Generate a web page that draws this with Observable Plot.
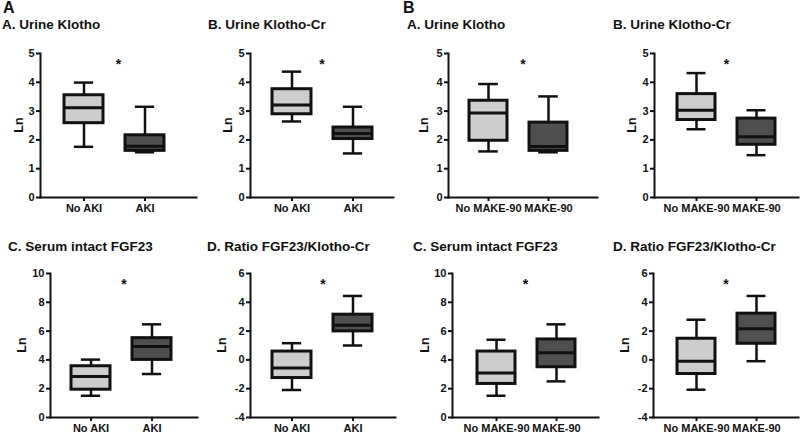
<!DOCTYPE html>
<html><head><meta charset="utf-8">
<script src="https://cdn.jsdelivr.net/npm/d3@7"></script>
<script src="https://cdn.jsdelivr.net/npm/@observablehq/plot@0.6"></script>
<style>
body{margin:0;background:#fff;font-family:"Liberation Sans",Arial,sans-serif;}
#root{position:relative;width:800px;height:434px;overflow:hidden;background:#fff;}
.panel{position:absolute;}
.title{position:absolute;font-weight:bold;font-size:13.5px;line-height:13.5px;white-space:nowrap;color:#111;}
.big{position:absolute;font-weight:bold;font-size:16px;line-height:16px;color:#111;}
.ylab{position:absolute;font-weight:bold;font-size:12.5px;line-height:12.5px;white-space:nowrap;color:#111;transform:translate(-50%,-50%) rotate(-90deg);}
</style></head><body><div id="root"></div>
<script>
// ---- data ----
const sectionLabels = ["A", "B"];
const panelTitles = ["A. Urine Klotho","B. Urine Klotho-Cr","A. Urine Klotho","B. Urine Klotho-Cr",
  "C. Serum intact FGF23","D. Ratio FGF23/Klotho-Cr","C. Serum intact FGF23","D. Ratio FGF23/Klotho-Cr"];
const groupsAKI = ["No AKI", "AKI"];
const groupsMAKE = ["No MAKE-90", "MAKE-90"];
const panelGroups = [groupsAKI, groupsAKI, groupsMAKE, groupsMAKE, groupsAKI, groupsAKI, groupsMAKE, groupsMAKE];
const whiskerLow  = [[1.76,1.57],[2.64,1.53],[1.60,1.57],[2.37,1.47],[1.51,3.02],[-2.09,1.00],[1.51,2.51],[-2.07,-0.09]];
const quartile1   = [[2.58,1.62],[2.89,2.03],[1.97,1.62],[2.69,1.83],[1.93,4.00],[-1.26,1.98],[2.33,3.49],[-0.98,1.12]];
const medians     = [[3.12,1.78],[3.21,2.22],[2.93,1.77],[3.03,2.11],[2.84,4.93],[-0.56,2.40],[3.09,4.49],[-0.09,2.16]];
const quartile3   = [[3.55,2.16],[3.76,2.43],[3.36,2.60],[3.59,2.74],[3.56,5.51],[0.58,3.14],[4.58,5.42],[1.47,3.21]];
const whiskerHigh = [[3.99,3.15],[4.37,3.15],[3.94,3.51],[4.32,3.03],[4.02,6.47],[1.16,4.44],[5.40,6.47],[2.79,4.44]];
const yDomains = [[0,5],[0,5],[0,5],[0,5],[0,10],[-4,6],[0,10],[-4,6]];
const yTickSteps = [1,1,1,1,2,2,2,2];
const yLabel = "Ln";
const significance = "*";
const fillColors = ["#cdcdcd", "#4f4f4f"];

// ---- layout ----
const panelLeft = [0,200,400,600,0,200,400,600];
const panelTop = [40,40,40,40,260,260,260,260];
const axisLeft = [40,250,448,654,50,250,452,653];
const axisRight = [196,393,597,798,197,395,598,798];
const groupCenters = [[83,145],[291,353],[488,548],[696,757],[90,152],[291,353],[496,557],[696,757]];
const titlePos = [[2,18],[208,18],[407,18],[613,18],[8,240],[207,240],[413,240],[613,240]];
const ylabOffset = [21,22,24,22,28,28,27,28];
const sectionPos = [[3,0],[403,0]];
const PW = 200, PH = 180, MT = 13, MB = 23;
const PAD = 0.36;

const root = document.getElementById("root");
sectionLabels.forEach((s, i) => {
  const d = document.createElement("div");
  d.className = "big"; d.textContent = s;
  d.style.left = sectionPos[i][0] + "px"; d.style.top = sectionPos[i][1] + "px";
  root.appendChild(d);
});

for (let p = 0; p < 8; p++) {
  const groups = panelGroups[p];
  const rows = groups.map((g, i) => ({
    group: g, color: fillColors[i],
    lo: whiskerLow[p][i], q1: quartile1[p][i], med: medians[p][i], q3: quartile3[p][i], hi: whiskerHigh[p][i]
  }));
  const [c1, c2] = groupCenters[p].map(c => c - panelLeft[p]);
  const step = c2 - c1;
  const off = step * (PAD + (1 - PAD) / 2);
  const bw = step * (1 - PAD);
  const capInset = (bw - 20) / 2;
  const [y0, y1] = yDomains[p];
  const ticks = d3.range(y0, y1 + 1e-9, yTickSteps[p]);
  const ml = axisLeft[p] - panelLeft[p];
  const mr = panelLeft[p] + PW - axisRight[p];

  const chart = Plot.plot({
    width: PW, height: PH,
    marginLeft: ml, marginRight: mr, marginTop: MT, marginBottom: MB,
    style: {fontFamily: '"Liberation Sans", Arial, sans-serif', background: "transparent", overflow: "visible", color: "#111"},
    x: {type: "band", domain: groups, range: [c1 - off, c2 + off], padding: PAD},
    y: {domain: [y0, y1]},
    color: {type: "identity"},
    marks: [
      Plot.ruleX(rows, {x: "group", y1: "lo", y2: "hi", stroke: "#111", strokeWidth: 2.5}),
      Plot.tickY(rows, {x: "group", y: "lo", insetLeft: capInset, insetRight: capInset, stroke: "#111", strokeWidth: 2.5}),
      Plot.tickY(rows, {x: "group", y: "hi", insetLeft: capInset, insetRight: capInset, stroke: "#111", strokeWidth: 2.5}),
      Plot.barY(rows, {x: "group", y1: "q1", y2: "q3", fill: "color", stroke: "#111", strokeWidth: 3}),
      Plot.tickY(rows, {x: "group", y: "med", stroke: "#111", strokeWidth: 3}),
      Plot.frame({anchor: "left", stroke: "#111", strokeWidth: 2}),
      Plot.frame({anchor: "bottom", stroke: "#111", strokeWidth: 2}),
      Plot.axisY({ticks, tickSize: 4, tickPadding: 2, fontSize: 11, fontWeight: "bold", label: null, strokeWidth: 2, tickFormat: d => String(d)}),
      Plot.axisX({tickSize: 4, tickPadding: 3, fontSize: 11, fontWeight: "bold", label: null, strokeWidth: 2}),
      Plot.text([significance], {text: d => d, frameAnchor: "top", dy: 6, fontSize: 14, fontWeight: "bold", fill: "#111"})
    ]
  });
  const holder = document.createElement("div");
  holder.className = "panel";
  holder.style.left = panelLeft[p] + "px"; holder.style.top = panelTop[p] + "px";
  holder.appendChild(chart);
  root.appendChild(holder);

  const t = document.createElement("div");
  t.className = "title"; t.textContent = panelTitles[p];
  t.style.left = titlePos[p][0] + "px"; t.style.top = titlePos[p][1] + "px";
  root.appendChild(t);

  const yl = document.createElement("div");
  yl.className = "ylab"; yl.textContent = yLabel;
  yl.style.left = (axisLeft[p] - ylabOffset[p]) + "px";
  yl.style.top = (panelTop[p] + MT + (PH - MT - MB) / 2) + "px";
  root.appendChild(yl);
}
</script></body></html>
